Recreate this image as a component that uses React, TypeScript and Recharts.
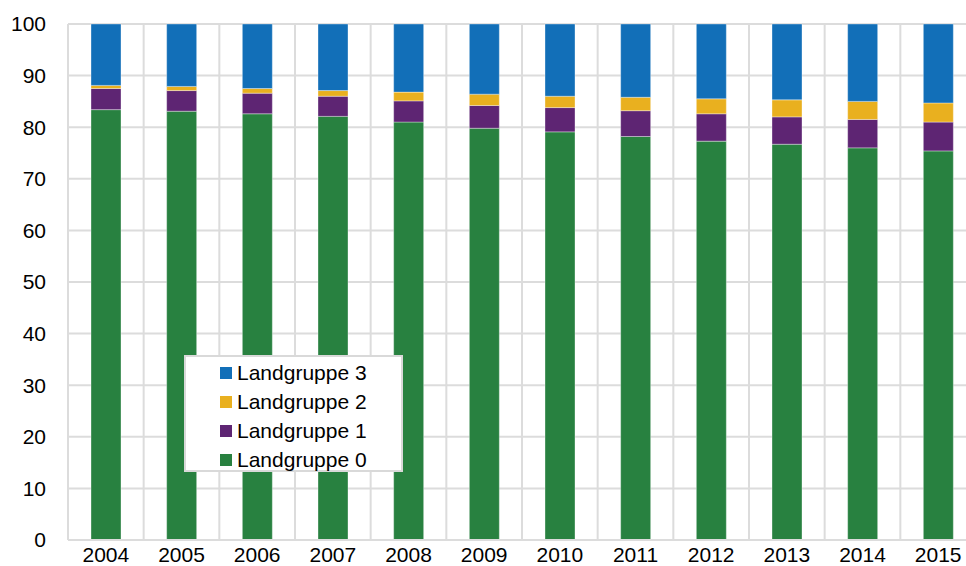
import React from 'react';
import { BarChart, Bar, XAxis, YAxis, CartesianGrid, Legend } from 'recharts';

const years = ['2004', '2005', '2006', '2007', '2008', '2009', '2010', '2011', '2012', '2013', '2014', '2015'];
const gruppe0 = [83.4, 83.1, 82.6, 82.1, 81.0, 79.8, 79.1, 78.2, 77.3, 76.7, 76.0, 75.4];
const gruppe1 = [4.1, 4.0, 4.0, 3.9, 4.1, 4.4, 4.7, 5.0, 5.3, 5.3, 5.5, 5.6];
const gruppe2 = [0.6, 0.8, 0.9, 1.1, 1.7, 2.2, 2.2, 2.6, 2.9, 3.3, 3.5, 3.7];
const gruppe3 = [11.9, 12.1, 12.5, 12.9, 13.2, 13.6, 14.0, 14.2, 14.5, 14.7, 15.0, 15.3];
const yTicks = [0, 10, 20, 30, 40, 50, 60, 70, 80, 90, 100];

const series = [
  { key: 'g0', name: 'Landgruppe 0', color: '#288140', values: gruppe0 },
  { key: 'g1', name: 'Landgruppe 1', color: '#5e2573', values: gruppe1 },
  { key: 'g2', name: 'Landgruppe 2', color: '#e9b01f', values: gruppe2 },
  { key: 'g3', name: 'Landgruppe 3', color: '#126fb8', values: gruppe3 },
];

const data = years.map((y, i) => {
  const row: any = { year: y };
  series.forEach((s) => { row[s.key] = s.values[i]; });
  return row;
});

const FONT = 'Liberation Sans, Arial, sans-serif';

const LegendBox = () => (
  <div
    style={{
      boxSizing: 'border-box',
      width: 219,
      height: 117,
      border: '2px solid #d9d9d9',
      background: '#ffffff',
      paddingTop: 1,
      paddingLeft: 34,
      fontFamily: FONT,
      fontSize: 21,
      color: '#000',
      textAlign: 'left',
    }}
  >
    {[...series].reverse().map((s) => (
      <div key={s.key} style={{ height: 29, display: 'flex', alignItems: 'center' }}>
        <span style={{ display: 'inline-block', width: 12, height: 12, background: s.color, marginRight: 5 }} />
        <span>{s.name}</span>
      </div>
    ))}
  </div>
);

export default function App() {
  return (
    <div style={{ position: 'absolute', left: 0, top: 0, width: 966, height: 566, overflow: 'hidden', background: '#fff' }}>
      <BarChart
        width={976}
        height={566}
        data={data}
        margin={{ top: 24, right: 0, bottom: 0, left: 0 }}
        barSize={30}
      >
        <CartesianGrid
          stroke="#dcdcdc"
          strokeWidth={2}
          verticalCoordinatesGenerator={({ offset }: any) =>
            Array.from({ length: years.length + 1 }, (_, i) => offset.left + (i * offset.width) / years.length)
          }
        />
        <XAxis
          dataKey="year"
          height={26}
          tickLine={false}
          tickMargin={1}
          axisLine={{ stroke: '#dcdcdc', strokeWidth: 2 }}
          tick={{ fill: '#000', fontSize: 21, fontFamily: FONT }}
          interval={0}
        />
        <YAxis
          width={68}
          domain={[0, 100]}
          ticks={yTicks}
          tickLine={false}
          tickMargin={16}
          axisLine={{ stroke: '#dcdcdc', strokeWidth: 2 }}
          tick={{ fill: '#000', fontSize: 21, fontFamily: FONT }}
          interval={0}
        />
        {series.map((s) => (
          <Bar
            key={s.key}
            dataKey={s.key}
            name={s.name}
            stackId="a"
            fill={s.color}
            stroke="#ffffff"
            strokeOpacity={0.35}
            strokeWidth={1}
            isAnimationActive={false}
          />
        ))}
        <Legend
          layout="vertical"
          align="center"
          verticalAlign="middle"
          content={<LegendBox />}
          wrapperStyle={{ position: 'absolute', left: 184, top: 355, width: 219, height: 117, margin: 0 }}
        />
      </BarChart>
    </div>
  );
}
